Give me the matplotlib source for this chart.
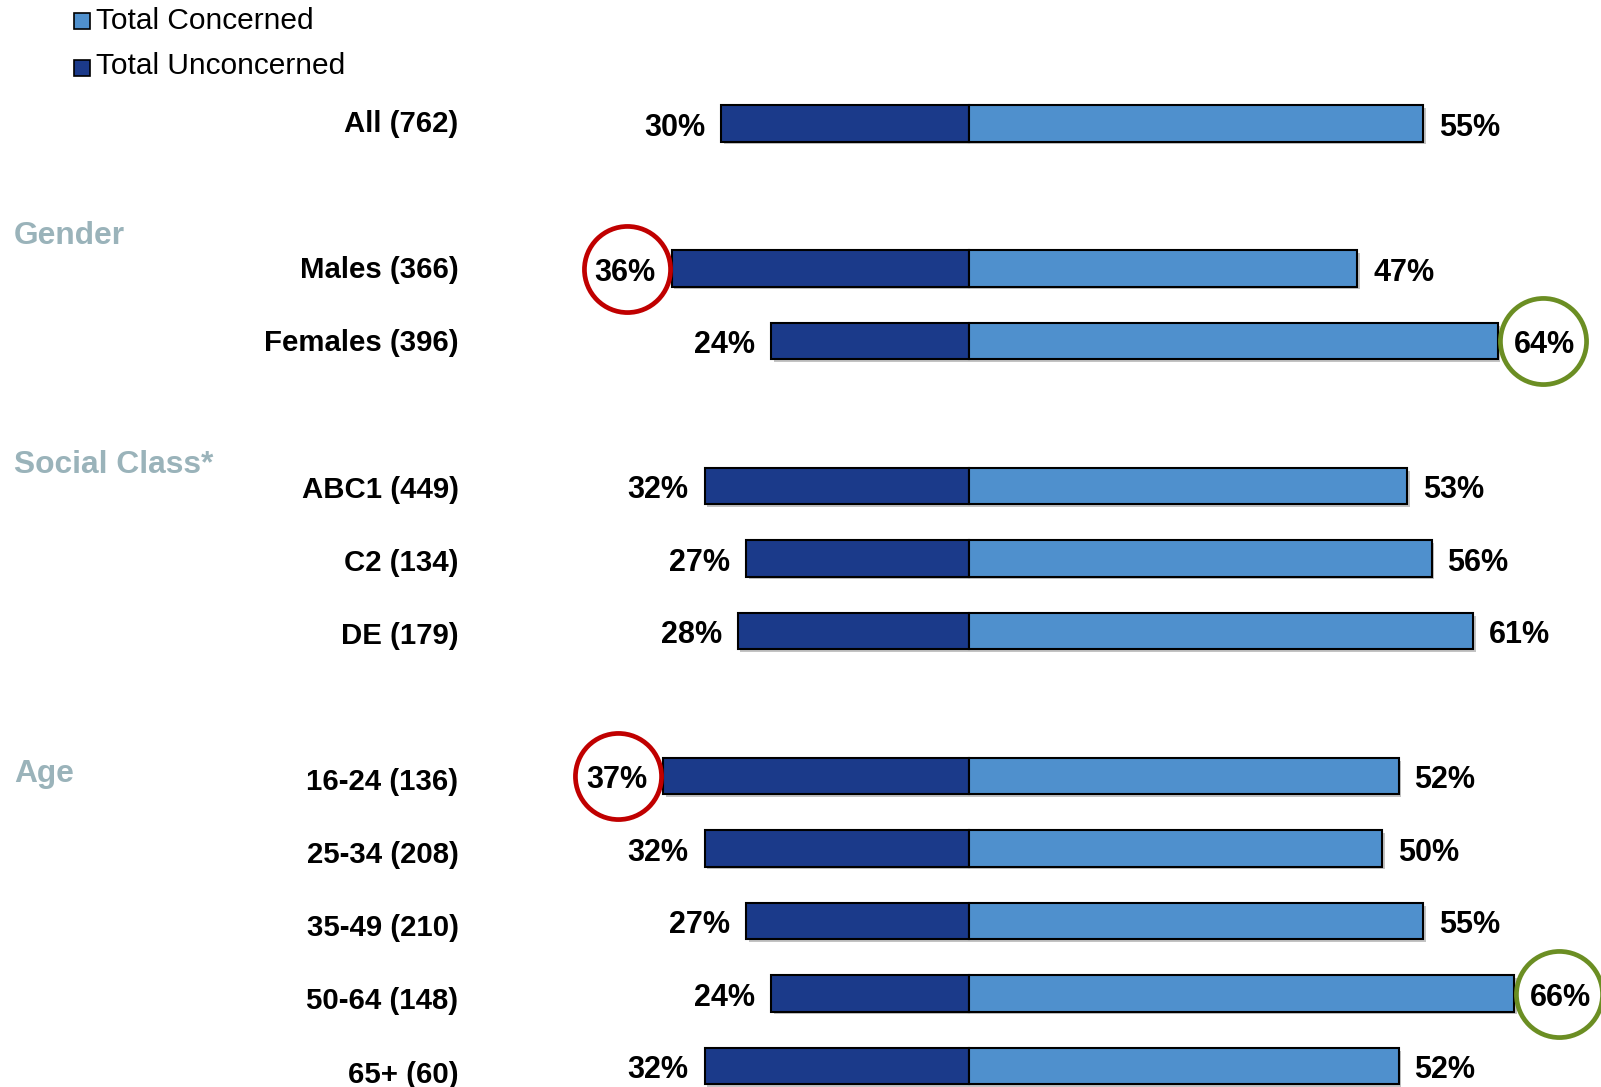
import matplotlib
matplotlib.use("Agg")
import matplotlib.pyplot as plt
from matplotlib.transforms import Affine2D, ScaledTranslation
import matplotlib.patheffects as pe

plt.rcParams['font.family'] = ['Liberation Sans', 'DejaVu Sans']

# --- data -------------------------------------------------------------
categories = ["All (762)", "Males (366)", "Females (396)", "ABC1 (449)",
              "C2 (134)", "DE (179)", "16-24 (136)", "25-34 (208)",
              "35-49 (210)", "50-64 (148)", "65+ (60)"]
unconcerned = [30, 36, 24, 32, 27, 28, 37, 32, 27, 24, 32]
concerned = [55, 47, 64, 53, 56, 61, 52, 50, 55, 66, 52]
rows = [0, 2, 3, 5, 6, 7, 9, 10, 11, 12, 13]

group_names = ["Gender", "Social Class*", "Age"]
group_rows = [1.51, 4.67, 8.92]

legend_labels = ["Total Concerned", "Total Unconcerned"]

# highlighted values (indices into the lists above)
highlight_low = [1, 6]      # unconcerned, red ring
highlight_high = [2, 9]     # concerned, green ring

# --- style ------------------------------------------------------------
C_DARK = "#1B3A8A"
C_LIGHT = "#4F90CD"
C_GROUP = "#9AB3BA"
C_RED = "#C00000"
C_GREEN = "#6B8E23"

W, H = 1601, 1087
DPI = 100
fig = plt.figure(figsize=(W / DPI, H / DPI), dpi=DPI)
ax = fig.add_axes([0, 0, 1, 1])
ax.axis("off")

# horizontal scale: centre at px 969, 8.26 px per percentage point
px_per = 8.26
cx = 969.0
ax.set_xlim(-cx / px_per, (W - cx) / px_per)
# vertical: row 0 at px 123.5, 72.5 px per row
y0, dy = 123.5, 72.5
ax.set_ylim((H - y0) / dy, -y0 / dy)

pix = Affine2D().scale(1 / W, -1 / H).translate(0, 1) + fig.transFigure


def cap_h(size_pt):
    """Cap height in pixels for Liberation Sans at the given size."""
    return size_pt / 72 * DPI * 0.716


def down(trans, px):
    """Shift a transform downward by px pixels."""
    return trans + ScaledTranslation(0, -px / DPI, fig.dpi_scale_trans)


shadow = [pe.SimplePatchShadow(offset=(2, -2), shadow_rgbFace="#888888", alpha=0.5), pe.Normal()]

bar_h = 0.5
ax.barh(rows, [-u for u in unconcerned], height=bar_h, color=C_DARK,
        edgecolor="black", linewidth=1.5, path_effects=shadow, zorder=2)
ax.barh(rows, concerned, height=bar_h, color=C_LIGHT,
        edgecolor="black", linewidth=1.5, path_effects=shadow, zorder=2)

# value labels
VSIZE = 22
gap = 16 / px_per
vtrans = down(ax.transData, cap_h(VSIZE) / 2 + 1.5)
vfont = dict(fontsize=VSIZE, fontweight="bold", color="black", va="baseline",
             transform=vtrans)
for r, u, c in zip(rows, unconcerned, concerned):
    ax.text(-u - gap, r, f"{u}%", ha="right", **vfont)
    ax.text(c + gap, r, f"{c}%", ha="left", **vfont)

# rings around notable values
half_text = 29 / px_per
for i in highlight_low:
    ax.plot([-unconcerned[i] - gap - half_text], [rows[i]], marker="o",
            markersize=62, markerfacecolor="none", markeredgecolor=C_RED,
            markeredgewidth=3.4, zorder=3)
for i in highlight_high:
    ax.plot([concerned[i] + gap + half_text], [rows[i]], marker="o",
            markersize=62, markerfacecolor="none", markeredgecolor=C_GREEN,
            markeredgewidth=3.4, zorder=3, clip_on=False)

# category labels
LSIZE = 21.2
label_x = (458.5 - cx) / px_per
for r, name in zip(rows, categories):
    drift = -2 + 8 * r / 13
    ax.text(label_x, r, name, ha="right", va="baseline",
            transform=down(ax.transData, cap_h(LSIZE) / 2 + drift),
            fontsize=LSIZE, fontweight="bold", color="black")

# group headers
GSIZE = 22.9
for r, g in zip(group_rows, group_names):
    ax.text(14, y0 + r * dy + cap_h(GSIZE) / 2, g, transform=pix, ha="left",
            va="baseline", fontsize=GSIZE, fontweight="bold", color=C_GROUP)

# legend
for k, (lab, col) in enumerate(zip(legend_labels, [C_LIGHT, C_DARK])):
    yc = 20.5 + k * 47.5
    ax.plot([81.5], [yc], transform=pix, marker="s", markersize=11.2,
            markerfacecolor=col, markeredgecolor="black",
            markeredgewidth=1.2, clip_on=False)
    ax.text(96, 29 + k * 45, lab, transform=pix,
            ha="left", va="baseline", fontsize=21.5, color="black")

fig.savefig("out.png", dpi=DPI, facecolor="white")
